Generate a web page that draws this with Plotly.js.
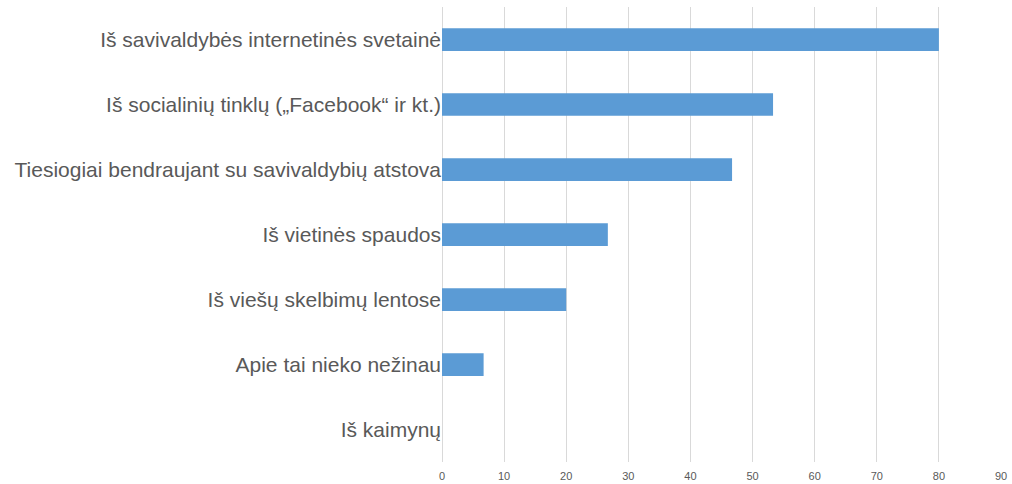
<!DOCTYPE html>
<html>
<head>
<meta charset="utf-8">
<script src="https://cdn.plot.ly/plotly-3.0.1.min.js"></script>
<style>html,body{margin:0;padding:0;background:#fff;}#chart{width:1012px;height:484px;}</style>
</head>
<body>
<div id="chart"></div>
<script>
var categories = [
  "Iš savivaldybės internetinės svetainė",
  "Iš socialinių tinklų („Facebook“ ir kt.)",
  "Tiesiogiai bendraujant su savivaldybių atstova",
  "Iš vietinės spaudos",
  "Iš viešų skelbimų lentose",
  "Apie tai nieko nežinau",
  "Iš kaimynų"
];
var values = [80, 53.3, 46.7, 26.7, 20, 6.7, 0];
var xTicks = [0, 10, 20, 30, 40, 50, 60, 70, 80, 90];

var trace = {
  type: "bar",
  orientation: "h",
  x: values,
  y: categories,
  marker: {color: "#5B9BD5"},
  hoverinfo: "x+y"
};

var layout = {
  width: 1012,
  height: 484,
  margin: {l: 442, r: 11, t: 7, b: 22, pad: 0},
  paper_bgcolor: "#ffffff",
  plot_bgcolor: "#ffffff",
  showlegend: false,
  bargap: 0.65,
  font: {family: "Liberation Sans, Arial, sans-serif", color: "#595959"},
  xaxis: {
    range: [0, 90],
    tickvals: xTicks,
    ticktext: xTicks.map(String),
    showgrid: true,
    gridcolor: "#d9d9d9",
    gridwidth: 1,
    zeroline: true,
    zerolinecolor: "#d9d9d9",
    zerolinewidth: 1,
    showline: false,
    ticks: "",
    ticklabelstandoff: 6,
    tickfont: {size: 11, color: "#595959"},
    fixedrange: true
  },
  yaxis: {
    type: "category",
    autorange: "reversed",
    showgrid: false,
    zeroline: false,
    showline: false,
    ticks: "",
    ticklabelstandoff: 0,
    tickfont: {size: 21, color: "#595959"},
    fixedrange: true
  }
};

Plotly.newPlot("chart", [trace], layout, {displayModeBar: false, staticPlot: true});
</script>
</body>
</html>
